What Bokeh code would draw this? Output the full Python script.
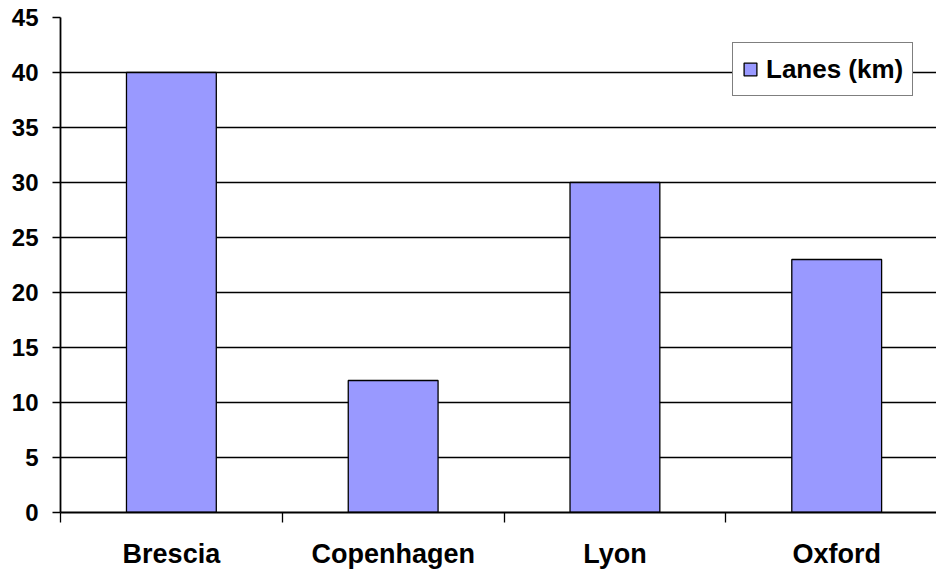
from bokeh.plotting import figure
from bokeh.models import (ColumnDataSource, Range1d, FixedTicker, Grid, Legend, LegendItem)
from bokeh.embed import file_html
from bokeh.resources import INLINE

cities = ["Brescia", "Copenhagen", "Lyon", "Oxford"]
lanes_km = [40, 12, 30, 23]
y_ticks = [0, 5, 10, 15, 20, 25, 30, 35, 40, 45]
series_name = "Lanes (km)"

centers = [i + 0.5 for i in range(len(cities))]
boundaries = list(range(len(cities) + 1))

src = ColumnDataSource(dict(x=centers, top=lanes_km, city=cities))

p = figure(width=936, height=571, output_backend="svg", toolbar_location=None,
           x_range=Range1d(0, 3.95), y_range=Range1d(0, 45),
           min_border_left=60, min_border_right=0, min_border_top=17, min_border_bottom=58)
p.outline_line_color = None
p.background_fill_color = "white"
p.border_fill_color = "white"

r = p.vbar(x="x", top="top", bottom=0, width=0.405, source=src,
           fill_color="#9999FF", line_color="black", line_width=1.3)

# Grids
p.xgrid.visible = False
p.ygrid.ticker = FixedTicker(ticks=y_ticks[1:-1])
p.ygrid.grid_line_color = "black"
p.ygrid.grid_line_width = 1.3
top_grid = Grid(dimension=1, ticker=FixedTicker(ticks=[y_ticks[-1]]),
                grid_line_color="#808080", grid_line_width=1.5)
p.add_layout(top_grid)

# Y axis
ya = p.yaxis[0]
ya.ticker = FixedTicker(ticks=y_ticks)
ya.axis_line_color = "black"
ya.axis_line_width = 1.8
ya.major_tick_out = 8
ya.major_tick_in = 0
ya.major_tick_line_width = 1.3
ya.minor_tick_line_color = None
ya.major_label_text_font = "Liberation Sans"
ya.major_label_text_font_style = "bold"
ya.major_label_text_font_size = "24px"
ya.major_label_text_color = "black"
ya.major_label_standoff = 14

# X axis
xa = p.xaxis[0]
xa.ticker = FixedTicker(ticks=centers, minor_ticks=boundaries)
xa.major_label_overrides = {c: name for c, name in zip(centers, cities)}
xa.axis_line_color = "black"
xa.axis_line_width = 1.8
xa.major_tick_out = 0
xa.major_tick_in = 0
xa.major_tick_line_color = None
xa.minor_tick_out = 10
xa.minor_tick_in = 0
xa.minor_tick_line_color = "black"
xa.minor_tick_line_width = 1.3
xa.major_label_text_font = "Liberation Sans"
xa.major_label_text_font_style = "bold"
xa.major_label_text_font_size = "27px"
xa.major_label_text_color = "black"
xa.major_label_standoff = 16

legend = Legend(items=[LegendItem(label=series_name, renderers=[r])],
                location=(672, 416), orientation="vertical",
                border_line_color="black", border_line_width=1.5,
                background_fill_color="white", background_fill_alpha=1.0,
                padding=9, margin=0, glyph_width=16, glyph_height=16,
                label_standoff=8, label_height=34,
                label_text_font="Liberation Sans", label_text_font_style="bold",
                label_text_font_size="26px", label_text_color="black")
p.add_layout(legend)

open("out.html", "w").write(file_html(p, INLINE))
